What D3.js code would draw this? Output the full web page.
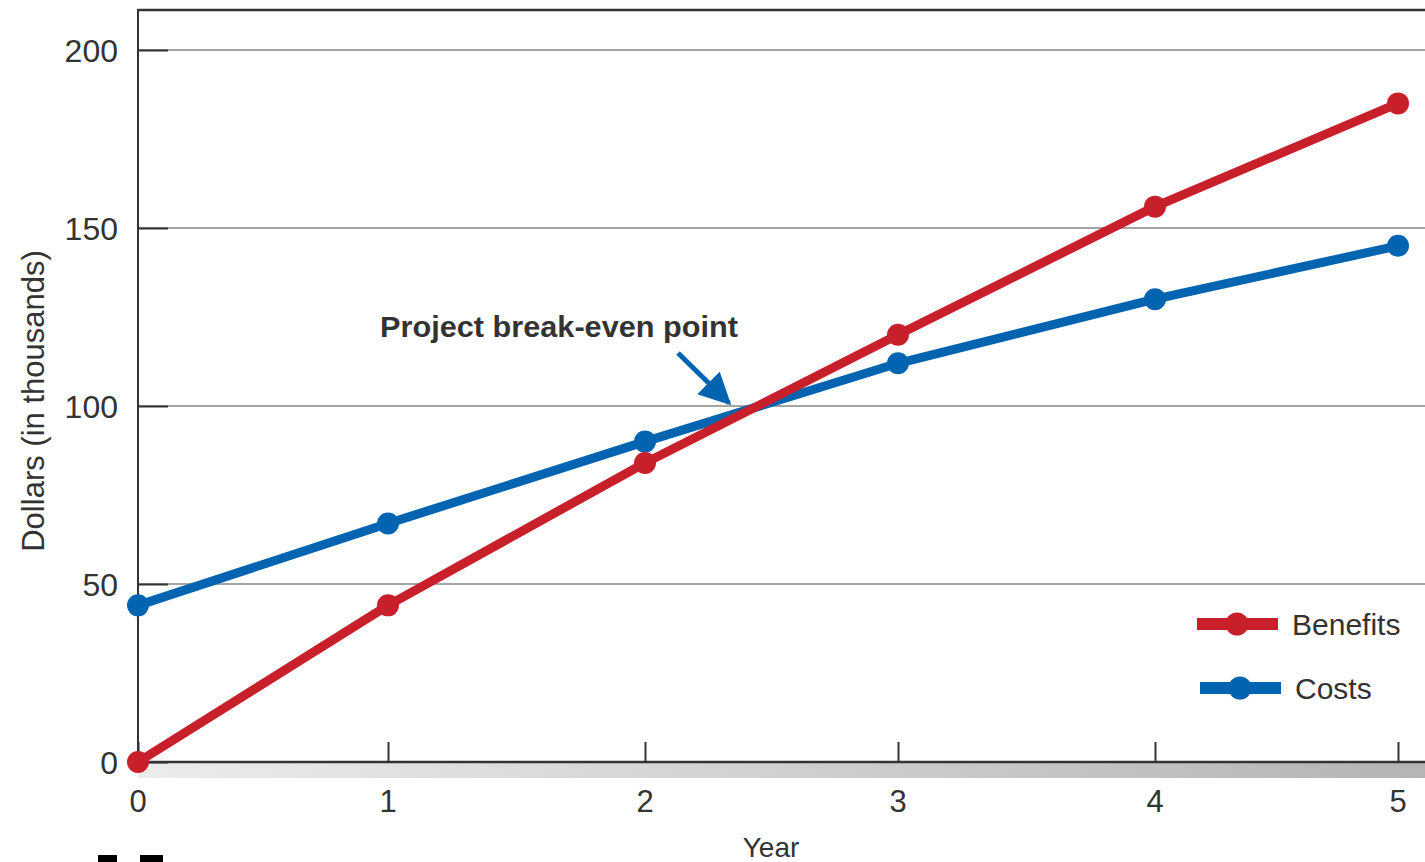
<!DOCTYPE html>
<html>
<head>
<meta charset="utf-8">
<script src="https://cdn.jsdelivr.net/npm/d3@7"></script>
<style>
  html, body { margin: 0; padding: 0; background: #fff; overflow: hidden; }
  svg { display: block; font-family: "Liberation Sans", Arial, sans-serif; }
</style>
</head>
<body>
<svg width="1425" height="862"></svg>
<script>
// ================= DATA ===================
const years = [0, 1, 2, 3, 4, 5];
const benefits = [0, 44, 84, 120, 156, 185];
const costs = [44, 67, 90, 112, 130, 145];
const yTicks = [0, 50, 100, 150, 200];
const seriesNames = ["Benefits", "Costs"];
const seriesColors = ["#c8202b", "#0064b0"];

// ================= SETUP ===================
const svg = d3.select("svg");
const width = +svg.attr("width");
const height = +svg.attr("height");
const margin = { top: 10, right: 0, bottom: 100, left: 138 };

// year positions in the original are slightly uneven
const x = d3.scaleLinear().domain(years).range([138, 388, 645, 898, 1155, 1398]);
const y = d3.scaleLinear().domain([0, 200]).range([762, 50]);

// gradient for band under axis
const defs = svg.append("defs");
const grad = defs.append("linearGradient").attr("id", "band");
grad.append("stop").attr("offset", "0%").attr("stop-color", "#ececec");
grad.append("stop").attr("offset", "100%").attr("stop-color", "#b4b4b6");

svg.append("rect")
  .attr("x", margin.left)
  .attr("y", y(0) + 1)
  .attr("width", width - margin.left)
  .attr("height", 15)
  .attr("fill", "url(#band)");

// ---------- grid lines ----------
svg.append("g")
  .selectAll("line")
  .data(yTicks.filter((d) => d > 0))
  .join("line")
  .attr("x1", margin.left)
  .attr("x2", width)
  .attr("y1", (d) => y(d))
  .attr("y2", (d) => y(d))
  .attr("stroke", "#a4a4a4")
  .attr("stroke-width", 2);

// ---------- y axis (inward ticks) ----------
const yAxis = svg.append("g")
  .attr("transform", `translate(${margin.left},0)`)
  .call(d3.axisRight(y).tickValues(yTicks).tickSize(30).tickFormat(""));
yAxis.select(".domain").remove();
yAxis.selectAll(".tick line").attr("stroke", "#333").attr("stroke-width", 2);

svg.append("g")
  .selectAll("text")
  .data(yTicks)
  .join("text")
  .attr("x", 118)
  .attr("y", (d) => y(d))
  .attr("dy", "0.36em")
  .attr("text-anchor", "end")
  .attr("font-size", 32)
  .attr("fill", "#333")
  .text((d) => d);

// ---------- x axis (inward ticks) ----------
const xAxis = svg.append("g")
  .attr("transform", `translate(0,${y(0)})`)
  .call(d3.axisTop(x).tickValues(years).tickSize(20).tickFormat(""));
xAxis.select(".domain").remove();
xAxis.selectAll(".tick line").attr("stroke", "#333").attr("stroke-width", 2);

svg.append("g")
  .selectAll("text")
  .data(years)
  .join("text")
  .attr("x", (d) => x(d))
  .attr("y", 812)
  .attr("text-anchor", "middle")
  .attr("font-size", 31)
  .attr("fill", "#333")
  .text((d) => d);

// frame: top, left, bottom
svg.append("line")
  .attr("x1", margin.left).attr("x2", width)
  .attr("y1", margin.top).attr("y2", margin.top)
  .attr("stroke", "#333").attr("stroke-width", 2.5);
svg.append("line")
  .attr("x1", margin.left).attr("x2", margin.left)
  .attr("y1", margin.top - 1).attr("y2", y(0))
  .attr("stroke", "#333").attr("stroke-width", 2);
svg.append("line")
  .attr("x1", margin.left).attr("x2", width)
  .attr("y1", y(0)).attr("y2", y(0))
  .attr("stroke", "#333").attr("stroke-width", 2.5);

// ---------- axis titles ----------
svg.append("text")
  .attr("x", 771)
  .attr("y", 857)
  .attr("text-anchor", "middle")
  .attr("font-size", 28)
  .attr("fill", "#333")
  .text("Year");

svg.append("text")
  .attr("transform", "translate(44,401) rotate(-90)")
  .attr("text-anchor", "middle")
  .attr("font-size", 31)
  .attr("fill", "#333")
  .text("Dollars (in thousands)");

// ---------- series ----------
const line = d3.line()
  .x((d, i) => x(years[i]))
  .y((d) => y(d));

const series = [
  { name: seriesNames[1], values: costs, color: seriesColors[1] },
  { name: seriesNames[0], values: benefits, color: seriesColors[0] },
];

series.forEach((s) => {
  const gS = svg.append("g");
  gS.append("path")
    .attr("d", line(s.values))
    .attr("fill", "none")
    .attr("stroke", s.color)
    .attr("stroke-width", 9)
    .attr("stroke-linejoin", "round");
  gS.selectAll("circle")
    .data(s.values)
    .join("circle")
    .attr("cx", (d, i) => x(years[i]))
    .attr("cy", (d) => y(d))
    .attr("r", 11)
    .attr("fill", s.color);
});

// ---------- annotation ----------
svg.append("text")
  .attr("x", 380)
  .attr("y", 337)
  .attr("font-size", 29)
  .attr("font-weight", "bold")
  .attr("fill", "#333")
  .attr("textLength", 358)
  .attr("lengthAdjust", "spacingAndGlyphs")
  .text("Project break-even point");

defs.append("marker")
  .attr("id", "arrowHead")
  .attr("viewBox", "0 0 10 10")
  .attr("refX", 9)
  .attr("refY", 5)
  .attr("markerWidth", 32)
  .attr("markerHeight", 32)
  .attr("markerUnits", "userSpaceOnUse")
  .attr("orient", "auto")
  .append("path")
  .attr("d", "M0,0 L10,5 L0,10 Z")
  .attr("fill", seriesColors[1]);

svg.append("line")
  .attr("x1", 678).attr("y1", 353)
  .attr("x2", 729).attr("y2", 403)
  .attr("stroke", seriesColors[1])
  .attr("stroke-width", 5)
  .attr("marker-end", "url(#arrowHead)");

// ---------- legend ----------
const legend = svg.append("g");
const legendRows = [
  { name: seriesNames[0], color: seriesColors[0], lx: 1197, ly: 624 },
  { name: seriesNames[1], color: seriesColors[1], lx: 1200, ly: 688 },
];
legendRows.forEach((r) => {
  legend.append("line")
    .attr("x1", r.lx).attr("x2", r.lx + 81)
    .attr("y1", r.ly).attr("y2", r.ly)
    .attr("stroke", r.color).attr("stroke-width", 12);
  legend.append("circle")
    .attr("cx", r.lx + 40).attr("cy", r.ly)
    .attr("r", 11.5).attr("fill", r.color);
  legend.append("text")
    .attr("x", r.lx + 95)
    .attr("y", r.ly)
    .attr("dy", "0.36em")
    .attr("font-size", 30)
    .attr("fill", "#333")
    .text(r.name);
});

// cropped figure-label fragments at the bottom edge
svg.append("rect").attr("x", 98).attr("y", 855).attr("width", 19).attr("height", 7).attr("fill", "#000");
svg.append("rect").attr("x", 140).attr("y", 855).attr("width", 23).attr("height", 7).attr("fill", "#000");
</script>
</body>
</html>
